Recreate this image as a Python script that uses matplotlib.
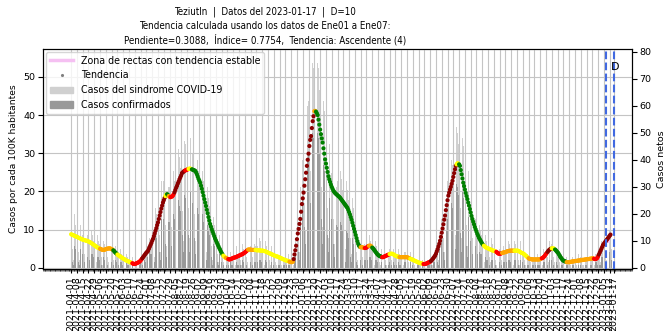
import matplotlib
matplotlib.use('Agg')
import matplotlib.pyplot as plt
import matplotlib.dates as mdates
from matplotlib import font_manager
import numpy as np
import pandas as pd
from matplotlib.lines import Line2D
from matplotlib.patches import Patch

plt.rcParams['font.family'] = ['DejaVu Sans']

# ---------------- data ----------------
title_lines = ["Teziutln  |  Datos del 2023-01-17  |  D=10",
               "Tendencia calculada usando los datos de Ene01 a Ene07:",
               "Pendiente=0.3088,  Índice= 0.7754,  Tendencia: Ascendente (4)"]

start_date = '2021-04-01'

# trend (casos por cada 100K habitantes), one value per day from start_date
trend = [
    8.8, 8.7, 8.6, 8.5, 8.4, 8.3, 8.2,
    8.1, 8.0, 7.9, 7.8, 7.7, 7.6, 7.5,
    7.4, 7.3, 7.3, 7.2, 7.1, 7.1, 7.0,
    6.9, 6.8, 6.7, 6.5, 6.4, 6.2, 6.1,
    5.9, 5.8, 5.6, 5.5, 5.3, 5.2, 5.1,
    5.0, 4.9, 4.8, 4.7, 4.7, 4.7, 4.8,
    4.9, 5.0, 5.0, 5.1, 5.1, 5.1, 5.0,
    4.9, 4.8, 4.6, 4.4, 4.1, 3.9, 3.7,
    3.5, 3.3, 3.2, 3.0, 2.9, 2.7, 2.6,
    2.4, 2.3, 2.2, 2.0, 1.9, 1.8, 1.7,
    1.6, 1.5, 1.4, 1.3, 1.2, 1.1, 1.0,
    1.0, 1.1, 1.2, 1.3, 1.4, 1.5, 1.7,
    1.9, 2.2, 2.5, 2.8, 3.1, 3.4, 3.7,
    4.0, 4.2, 4.5, 5.0, 5.5, 6.0, 6.5,
    7.1, 7.6, 8.3, 9.0, 9.7, 10.4, 11.2,
    11.9, 12.8, 13.7, 14.6, 15.5, 16.3, 17.1,
    17.7, 18.3, 18.8, 19.2, 19.3, 19.1, 18.8,
    18.6, 18.5, 18.6, 18.7, 18.9, 19.3, 19.8,
    20.4, 21.0, 21.5, 22.1, 22.6, 23.2, 23.7,
    24.2, 24.8, 25.0, 25.2, 25.4, 25.5, 25.6,
    25.7, 25.8, 25.9, 26.0, 26.0, 25.9, 25.8,
    25.7, 25.6, 25.5, 25.4, 25.0, 24.5, 23.9,
    23.3, 22.8, 22.3, 21.5, 20.7, 19.8, 18.9,
    18.0, 17.1, 16.2, 15.2, 14.3, 13.3, 12.4,
    11.5, 10.8, 10.1, 9.5, 8.9, 8.3, 7.7,
    7.2, 6.7, 6.2, 5.7, 5.2, 4.8, 4.3,
    3.9, 3.5, 3.2, 3.0, 2.8, 2.6, 2.5,
    2.4, 2.3, 2.2, 2.2, 2.3, 2.4, 2.5,
    2.6, 2.7, 2.7, 2.8, 2.9, 3.0, 3.1,
    3.2, 3.3, 3.4, 3.5, 3.6, 3.7, 3.9,
    4.0, 4.2, 4.4, 4.6, 4.8, 4.8, 4.8,
    4.8, 4.7, 4.7, 4.7, 4.7, 4.7, 4.7,
    4.6, 4.6, 4.6, 4.6, 4.6, 4.5, 4.5,
    4.5, 4.5, 4.4, 4.4, 4.3, 4.2, 4.1,
    4.0, 3.9, 3.8, 3.7, 3.6, 3.5, 3.4,
    3.3, 3.2, 3.1, 3.0, 3.0, 2.9, 2.8,
    2.7, 2.6, 2.5, 2.4, 2.3, 2.2, 2.1,
    2.0, 1.9, 1.9, 1.8, 1.7, 1.6, 1.6,
    1.5, 1.5, 1.6, 2.3, 3.5, 4.6, 5.8,
    7.5, 9.0, 10.2, 11.5, 12.8, 14.7, 16.7,
    18.2, 19.7, 21.5, 23.2, 24.9, 26.7, 28.3,
    29.9, 31.9, 33.5, 34.5, 36.6, 38.4, 39.7,
    41.0, 41.1, 40.9, 40.5, 40.0, 38.8, 37.5,
    36.2, 35.0, 33.9, 32.8, 31.3, 29.9, 28.4,
    27.3, 26.2, 25.1, 24.0, 23.2, 22.5, 21.8,
    21.2, 20.7, 20.2, 19.9, 19.6, 19.4, 19.2,
    19.0, 18.8, 18.6, 18.4, 18.1, 17.8, 17.5,
    17.2, 16.9, 16.6, 16.3, 16.0, 15.7, 15.2,
    14.6, 14.0, 13.3, 12.6, 11.8, 11.0, 10.2,
    9.4, 8.6, 7.8, 7.0, 6.3, 5.8, 5.5,
    5.4, 5.4, 5.4, 5.3, 5.2, 5.2, 5.2,
    5.3, 5.5, 5.7, 5.8, 5.8, 5.8, 5.6,
    5.3, 5.1, 4.8, 4.5, 4.2, 3.9, 3.6,
    3.4, 3.2, 3.1, 3.0, 2.9, 2.8, 2.8,
    2.9, 3.0, 3.1, 3.2, 3.3, 3.4, 3.5,
    3.6, 3.7, 3.7, 3.7, 3.6, 3.5, 3.3,
    3.2, 3.1, 3.0, 2.9, 2.9, 2.8, 2.8,
    2.8, 2.8, 2.8, 2.8, 2.8, 2.8, 2.8,
    2.8, 2.7, 2.6, 2.5, 2.4, 2.3, 2.2,
    2.1, 2.0, 1.9, 1.8, 1.7, 1.6, 1.5,
    1.4, 1.3, 1.3, 1.2, 1.1, 1.1, 1.0,
    1.0, 1.0, 1.1, 1.2, 1.3, 1.4, 1.5,
    1.6, 1.8, 2.0, 2.3, 2.6, 2.9, 3.2,
    3.7, 4.3, 4.9, 5.6, 6.3, 7.1, 8.1,
    9.2, 10.3, 11.4, 12.6, 13.7, 15.1, 16.4,
    17.7, 18.9, 19.7, 20.5, 21.2, 22.0, 22.8,
    23.8, 24.8, 25.8, 26.7, 27.1, 27.4, 27.3,
    27.1, 26.7, 25.6, 24.5, 23.4, 22.3, 21.4,
    20.5, 19.6, 18.8, 18.0, 17.1, 16.3, 15.4,
    14.5, 13.6, 12.8, 12.1, 11.4, 10.7, 10.1,
    9.5, 8.9, 8.4, 7.9, 7.5, 7.1, 6.7,
    6.3, 6.0, 5.8, 5.6, 5.4, 5.3, 5.2,
    5.1, 5.0, 4.9, 4.8, 4.7, 4.6, 4.5,
    4.5, 4.4, 4.3, 4.2, 4.0, 3.8, 3.7,
    3.7, 3.7, 3.8, 3.9, 4.0, 4.0, 4.1,
    4.1, 4.2, 4.3, 4.4, 4.4, 4.5, 4.5,
    4.5, 4.5, 4.5, 4.5, 4.5, 4.5, 4.5,
    4.5, 4.5, 4.4, 4.3, 4.1, 4.0, 3.9,
    3.8, 3.7, 3.5, 3.3, 3.1, 2.9, 2.7,
    2.5, 2.4, 2.3, 2.3, 2.2, 2.2, 2.2,
    2.2, 2.2, 2.2, 2.2, 2.2, 2.2, 2.2,
    2.3, 2.4, 2.5, 2.6, 2.8, 3.0, 3.3,
    3.6, 3.9, 4.2, 4.5, 4.7, 4.9, 5.0,
    5.1, 5.1, 5.1, 5.0, 4.8, 4.6, 4.3,
    4.1, 3.8, 3.4, 3.0, 2.7, 2.4, 2.1,
    1.9, 1.8, 1.7, 1.6, 1.5, 1.5, 1.5,
    1.5, 1.5, 1.6, 1.6, 1.7, 1.7, 1.7,
    1.8, 1.8, 1.8, 1.9, 1.9, 1.9, 2.0,
    2.0, 2.0, 2.1, 2.1, 2.1, 2.2, 2.2,
    2.2, 2.3, 2.3, 2.3, 2.4, 2.4, 2.4,
    2.5, 2.5, 2.4, 2.3, 2.3, 2.4, 2.6,
    3.0, 3.5, 4.0, 4.5, 5.0, 5.5, 6.0,
    6.3, 6.6, 6.9, 7.2, 7.5, 7.8, 8.1,
    8.4, 8.7,
]

# trend class changes: day offset from start_date and class
seg_start_day = [0, 35, 51, 56, 74, 86, 114, 116, 118, 120, 125, 138, 142, 146,
                 184, 187, 190, 214, 223, 264, 269, 294, 296, 350, 355, 360, 364,
                 376, 385, 397, 410, 426, 435, 466, 469, 499, 514, 521, 536, 553,
                 569, 576, 581, 585, 599, 632, 638]
seg_class = ['Y', 'O', 'G', 'Y', 'R', 'D', 'Y', 'G', 'O', 'R', 'D', 'R', 'Y', 'G',
             'Y', 'O', 'R', 'O', 'Y', 'O', 'D', 'O', 'G', 'O', 'R', 'O', 'G',
             'R', 'Y', 'O', 'Y', 'R', 'D', 'Y', 'G', 'Y', 'R', 'O', 'Y', 'O',
             'R', 'D', 'Y', 'G', 'O', 'R', 'D']
class_colors = {'Y': '#ffff00', 'O': '#ffa500', 'R': '#ff0000',
                'D': '#8b0000', 'G': '#008000'}

# daily net cases (right axis), one value per day from start_date
sindrome = [
    15, 13, 7, 3, 20, 16, 12,   13, 12, 6, 3, 16, 15, 13,   12, 11, 5, 2, 15, 13, 12,
    11, 9, 5, 2, 14, 12, 10,    10, 8, 4, 2, 12, 10, 9,     8, 7, 4, 1, 10, 9, 8,
    9, 8, 4, 2, 11, 9, 7,       7, 6, 3, 1, 10, 8, 6,       5, 4, 2, 1, 7, 5, 4,
    4, 3, 1, 0, 5, 4, 3,        3, 2, 1, 0, 4, 3, 2,        2, 3, 1, 0, 3, 4, 3,
    4, 5, 2, 1, 6, 6, 5,        8, 8, 4, 2, 11, 10, 9,      15, 16, 8, 4, 22, 20, 18,
    24, 23, 12, 6, 32, 29, 26,  32, 30, 16, 8, 40, 37, 30,  30, 28, 15, 7, 38, 36, 32,
    36, 34, 18, 9, 44, 41, 37,  42, 39, 21, 10, 47, 46, 44, 44, 41, 22, 11, 48, 47, 43,
    42, 38, 20, 10, 47, 45, 40, 36, 33, 17, 8, 40, 36, 32,  27, 24, 13, 6, 30, 26, 23,
    16, 15, 8, 3, 19, 16, 14,   10, 9, 5, 2, 12, 10, 8,     5, 5, 2, 1, 7, 5, 4,
    4, 3, 1, 0, 6, 4, 3,        5, 4, 2, 1, 8, 5, 4,        6, 5, 3, 1, 9, 7, 5,
    9, 8, 4, 2, 11, 10, 8,      8, 9, 4, 1, 12, 9, 8,       9, 8, 3, 2, 11, 10, 7,
    8, 7, 3, 1, 10, 8, 6,       6, 6, 3, 1, 8, 7, 5,        5, 4, 2, 1, 7, 5, 4,
    4, 3, 1, 0, 6, 4, 3,        3, 3, 1, 0, 5, 3, 3,        2, 3, 1, 1, 7, 10, 12,
    14, 17, 10, 6, 30, 33, 35,  40, 44, 24, 14, 60, 62, 60, 62, 64, 36, 20, 78, 76, 74,
    72, 70, 38, 20, 76, 74, 66, 58, 54, 30, 15, 62, 58, 50, 42, 40, 22, 11, 46, 42, 38,
    35, 33, 18, 9, 38, 35, 30,  32, 30, 16, 8, 36, 33, 29,  28, 27, 14, 7, 32, 29, 25,
    22, 21, 11, 5, 26, 22, 19,  13, 12, 6, 3, 15, 12, 10,   9, 8, 4, 2, 11, 9, 8,
    10, 9, 5, 2, 12, 10, 9,     8, 7, 4, 1, 10, 8, 6,       5, 5, 2, 1, 7, 5, 4,
    6, 5, 3, 1, 8, 6, 5,        7, 6, 3, 1, 8, 7, 5,        5, 5, 2, 1, 7, 5, 4,
    5, 4, 2, 1, 6, 6, 4,        5, 4, 2, 0, 6, 5, 4,        4, 3, 1, 0, 5, 4, 3,
    2, 2, 1, 0, 4, 3, 2,        3, 2, 1, 0, 3, 3, 2,        3, 3, 2, 1, 5, 5, 4,
    8, 9, 5, 3, 13, 12, 11,     18, 20, 11, 6, 28, 27, 26,  32, 33, 18, 9, 42, 40, 38,
    45, 44, 24, 12, 52, 50, 46, 42, 40, 22, 11, 48, 45, 40, 32, 30, 16, 8, 36, 32, 28,
    22, 20, 11, 5, 25, 22, 18,  14, 13, 7, 3, 16, 14, 12,   10, 9, 5, 2, 12, 10, 8,
    9, 8, 4, 2, 11, 9, 7,       8, 7, 3, 1, 10, 8, 6,       7, 7, 3, 1, 9, 8, 6,
    8, 7, 4, 2, 10, 9, 7,       8, 8, 4, 1, 10, 9, 7,       8, 7, 3, 1, 10, 8, 6,
    6, 6, 3, 1, 8, 6, 5,        4, 4, 2, 0, 6, 4, 3,        4, 3, 1, 0, 5, 4, 3,
    5, 5, 2, 1, 7, 6, 5,        8, 7, 4, 2, 10, 9, 7,       9, 8, 4, 2, 11, 9, 7,
    5, 5, 2, 1, 7, 5, 4,        3, 2, 1, 0, 4, 3, 2,        3, 2, 1, 0, 4, 3, 2,
    3, 3, 1, 0, 5, 4, 3,        4, 3, 1, 1, 5, 4, 3,        4, 3, 2, 0, 5, 4, 4,
    4, 3, 1, 1, 5, 5, 4,        7, 7, 4, 2, 10, 9, 8,       12, 11, 6, 3, 15, 14, 12,
    14, 13, 7,
]
confirmados = [
    6, 5, 2, 1, 8, 7, 5,        5, 5, 2, 1, 7, 6, 5,        5, 4, 2, 0, 6, 5, 4,
    4, 3, 2, 0, 5, 5, 4,        3, 3, 1, 0, 4, 4, 3,        3, 2, 1, 0, 4, 3, 3,
    3, 3, 1, 0, 4, 3, 2,        2, 2, 1, 0, 3, 3, 2,        2, 1, 0, 0, 2, 2, 1,
    1, 1, 0, 0, 2, 1, 1,        1, 0, 0, 0, 1, 1, 1,        1, 1, 0, 0, 1, 1, 1,
    2, 2, 1, 0, 3, 3, 2,        4, 4, 2, 1, 6, 5, 5,        8, 9, 4, 2, 12, 11, 10,
    13, 13, 6, 3, 18, 16, 15,   18, 17, 9, 4, 23, 21, 17,   17, 16, 8, 4, 22, 20, 18,
    20, 19, 10, 5, 25, 23, 21,  24, 22, 12, 6, 27, 26, 25,  25, 23, 12, 6, 28, 27, 24,
    24, 21, 11, 5, 27, 25, 22,  20, 18, 9, 4, 22, 20, 17,   14, 13, 7, 3, 16, 14, 12,
    8, 7, 4, 1, 9, 8, 7,        4, 4, 2, 1, 5, 4, 3,        2, 2, 1, 0, 2, 2, 1,
    1, 1, 0, 0, 2, 1, 1,        1, 1, 0, 0, 2, 1, 1,        2, 1, 1, 0, 3, 2, 1,
    2, 2, 1, 0, 3, 3, 2,        2, 2, 1, 0, 3, 2, 2,        2, 2, 1, 0, 3, 3, 2,
    2, 2, 0, 0, 3, 2, 1,        1, 1, 0, 0, 2, 2, 1,        1, 1, 0, 0, 2, 1, 1,
    1, 0, 0, 0, 1, 1, 1,        1, 1, 0, 0, 1, 1, 0,        1, 1, 0, 0, 3, 5, 6,
    8, 10, 6, 3, 18, 20, 22,    26, 28, 15, 9, 40, 42, 40,  42, 44, 24, 13, 52, 50, 48,
    48, 46, 24, 12, 50, 48, 42, 36, 34, 18, 9, 38, 36, 30,  24, 22, 12, 6, 26, 24, 21,
    18, 17, 9, 4, 20, 18, 16,   15, 14, 8, 3, 17, 16, 14,   12, 11, 6, 2, 14, 13, 11,
    9, 8, 4, 2, 11, 9, 8,       5, 5, 2, 1, 6, 5, 4,        3, 3, 1, 0, 4, 3, 3,
    3, 3, 2, 0, 4, 4, 3,        2, 2, 1, 0, 3, 3, 2,        1, 1, 0, 0, 2, 2, 1,
    2, 1, 1, 0, 2, 2, 1,        2, 2, 1, 0, 3, 2, 1,        1, 1, 0, 0, 2, 1, 1,
    1, 1, 0, 0, 2, 2, 1,        1, 1, 0, 0, 2, 1, 1,        1, 1, 0, 0, 1, 1, 1,
    1, 0, 0, 0, 1, 1, 0,        1, 1, 0, 0, 1, 1, 1,        1, 1, 1, 0, 2, 2, 2,
    4, 5, 2, 1, 7, 6, 6,        10, 11, 6, 3, 16, 15, 14,   18, 19, 10, 5, 25, 24, 22,
    27, 26, 14, 7, 31, 30, 27,  25, 23, 13, 6, 28, 26, 23,  17, 16, 8, 4, 19, 17, 15,
    10, 9, 5, 2, 11, 10, 8,     5, 5, 3, 1, 6, 5, 5,        3, 3, 2, 0, 4, 3, 3,
    3, 2, 1, 0, 3, 3, 2,        2, 2, 1, 0, 3, 2, 2,        2, 2, 1, 0, 3, 2, 2,
    2, 2, 1, 0, 3, 3, 2,        2, 2, 1, 0, 3, 3, 2,        2, 2, 1, 0, 3, 2, 2,
    2, 1, 1, 0, 2, 2, 1,        1, 1, 0, 0, 1, 1, 1,        1, 1, 0, 0, 1, 1, 1,
    1, 1, 0, 0, 2, 2, 1,        2, 2, 1, 0, 3, 3, 2,        3, 2, 1, 0, 3, 3, 2,
    1, 1, 0, 0, 2, 1, 1,        1, 0, 0, 0, 1, 1, 0,        0, 1, 0, 0, 1, 1, 0,
    1, 1, 0, 0, 1, 1, 1,        1, 1, 0, 0, 1, 1, 1,        1, 1, 0, 0, 2, 1, 1,
    1, 1, 0, 0, 2, 2, 1,        3, 3, 1, 1, 4, 4, 3,        5, 5, 2, 1, 6, 6, 5,
    6, 5, 3,
]

pop_factor = 1.415            # casos netos per unit of "casos por cada 100K"
stable_dates = ['2023-01-07', '2023-01-13']
stable_vals = [7.2, 7.2]
window_dates = ['2023-01-07', '2023-01-17']
label_D = 'D'
tick_first, tick_last, tick_extra = '2021-04-01', '2023-01-12', '2023-01-17'
x_min, x_max = '2021-02-26', '2023-02-08'
y_max_left = 57.3

# ---------------- figure ----------------
W, H = 671, 331
fig = plt.figure(figsize=(W / 100, H / 100), dpi=100)
ax = fig.add_axes([43 / W, 1 - 269 / H, 589 / W, 220 / H])
ax2 = ax.twinx()

t_dates = pd.date_range(start_date, periods=len(trend), freq='D')
b_dates = pd.date_range(start_date, periods=len(sindrome), freq='D')

# bars on right axis (netos)
ax2.bar(b_dates, sindrome, width=0.75, color='#d0d0d0', linewidth=0)
ax2.bar(b_dates, confirmados, width=0.75, color='#999999', linewidth=0)

# colors per trend point
cols = []
bounds = seg_start_day + [len(trend)]
for i in range(len(seg_class)):
    cols += [class_colors[seg_class[i]]] * (bounds[i + 1] - bounds[i])

ax.plot(pd.to_datetime(stable_dates), stable_vals, color='#f5c0f2', lw=4,
        solid_capstyle='butt', zorder=2)
ax.scatter(t_dates, trend, c=cols, s=9, linewidths=0, zorder=3)

for d in window_dates:
    ax.axvline(pd.Timestamp(d), color='#4169e1', ls='--', lw=1.5, zorder=4)
ax.text(pd.Timestamp('2023-01-19'), 52.6, label_D, fontsize=8, ha='center',
        va='center', zorder=5)

ax.set_zorder(ax2.get_zorder() + 1)
ax.patch.set_visible(False)

ax.set_xlim(pd.Timestamp(x_min), pd.Timestamp(x_max))
ax.set_ylim(-0.3, y_max_left)
ax2.set_ylim(-0.3 * pop_factor, y_max_left * pop_factor)
ax.set_yticks([0, 10, 20, 30, 40, 50])
ax2.set_yticks([0, 10, 20, 30, 40, 50, 60, 70, 80])

ticks = list(pd.date_range(tick_first, tick_last, freq='7D')) + [pd.Timestamp(tick_extra)]
ax.set_xticks(ticks)
ax.set_xticklabels([t.strftime('%Y-%m-%d') for t in ticks], rotation=90, fontsize=6.8)
ax.xaxis.set_minor_locator(mdates.DayLocator())
ax.tick_params(axis='x', which='minor', length=1.5, width=0.4)
ax.tick_params(axis='x', which='major', length=3, width=0.8, pad=2)
ax.tick_params(axis='y', labelsize=6.8, length=3.5, pad=2)
ax2.tick_params(axis='y', labelsize=6.8, length=3.5, pad=2)

ax.grid(True, which='major', color='#c4c4c4', lw=0.8)
ax.set_ylabel('Casos por cada 100K habitantes', fontsize=6.6, labelpad=4)
ax2.set_ylabel('Casos netos', fontsize=6.8, labelpad=4)

handles = [Line2D([], [], color='#f5c0f2', lw=2.5),
           Line2D([], [], color='gray', marker='.', ls='', markersize=2.5),
           Patch(color='#d0d0d0'), Patch(color='#999999')]
labels = ['Zona de rectas con tendencia estable', 'Tendencia',
          'Casos del sindrome COVID-19', 'Casos confirmados']
ax.legend(handles, labels, loc='upper left', fontsize=6.85, handlelength=2.5,
          borderaxespad=0.3, framealpha=0.8)

# title: use a condensed DejaVu face when it is installed
has_condensed = any(f.name == 'DejaVu Sans' and 'ondensed' in f.fname
                    for f in font_manager.fontManager.ttflist)
if has_condensed:
    tkw = dict(fontsize=7.0, fontstretch='condensed')
else:
    tkw = dict(fontsize=6.2)
for yb, line in zip([14.5, 29, 43.5], title_lines):
    fig.text(265 / W, 1 - yb / H, line, ha='center', va='baseline', **tkw)

fig.savefig('out.png', dpi=100)
